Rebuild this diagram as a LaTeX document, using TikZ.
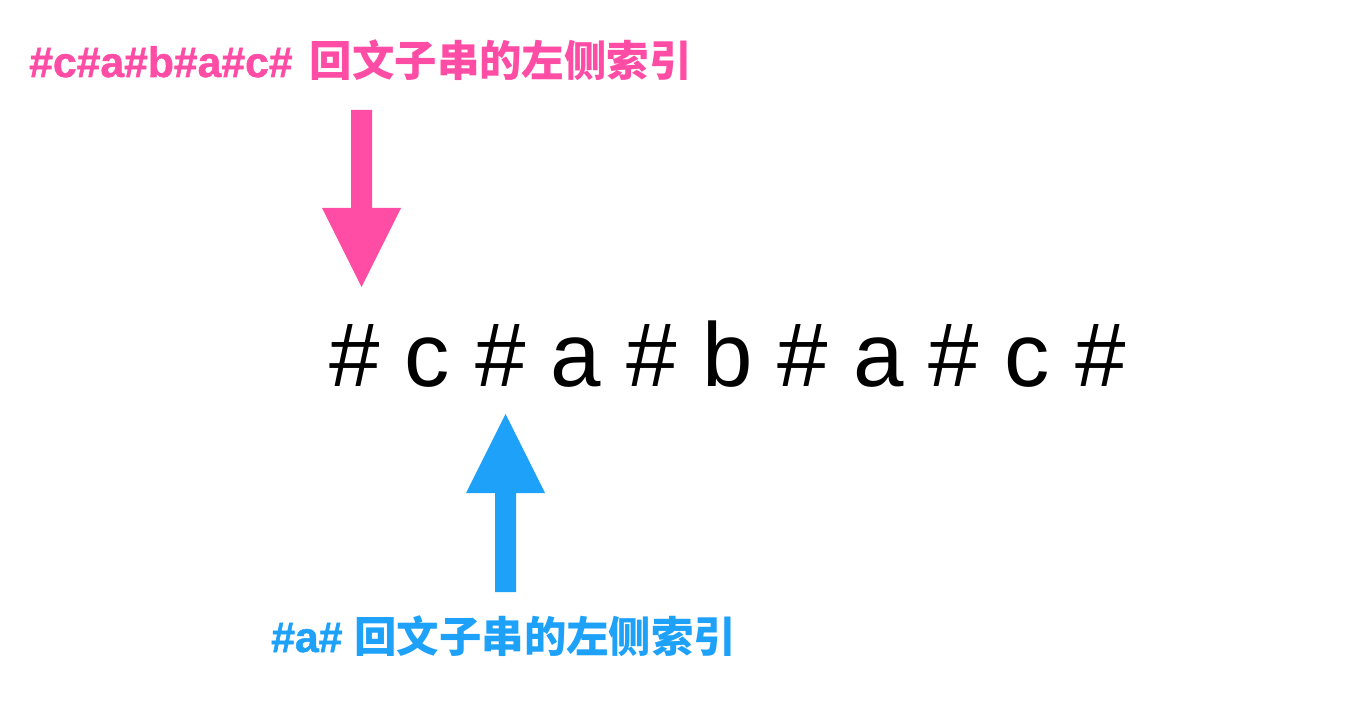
\documentclass[tikz,border=0pt]{standalone}
\usepackage{fontspec}
\newfontfamily\lat{Liberation Sans}[BoldFont={Liberation Sans Bold},BoldFeatures={FakeBold=1.2}]
\newfontfamily\cjk{Noto Sans CJK SC}
\definecolor{pinkc}{HTML}{FF4CA5}
\definecolor{bluec}{HTML}{1EA1F9}
\tikzset{
  lbl/.style={inner sep=0pt, anchor=base west, font=\lat\bfseries\fontsize{32pt}{36pt}\selectfont},
  mainstr/.style={inner sep=0pt, anchor=base west, font=\lat\fontsize{68pt}{76pt}\selectfont}
}
\newcommand{\cjklabel}[1]{{\cjk\bfseries\fontsize{31.8pt}{38pt}\selectfont #1}}
\begin{document}
\begin{tikzpicture}[x=0.75pt,y=-0.75pt]
\useasboundingbox (0,0) rectangle (1360,702);
% labels
\node[lbl, text=pinkc] (toplabel) at (29,77) {\#c\#a\#b\#a\#c\#\hspace{13pt}\cjklabel{回文子串的左侧索引}};
\node[lbl, text=bluec] (botlabel) at (271,652) {\#a\#\hspace{9pt}\cjklabel{回文子串的左侧索引}};
% main string
\node[mainstr] (str) at (329,386) {\# c \# a \# b \# a \# c \#};
% pink arrow
\coordinate (ptip) at (361.5,287);
\fill[pinkc] (351,110) -- (372,110) -- (372,208) -- (401,208) -- (ptip) -- (322,208) -- (351,208) -- cycle;
% blue arrow
\coordinate (btip) at (505.5,414);
\fill[bluec] (btip) -- (545,493) -- (516,493) -- (516,592) -- (495,592) -- (495,493) -- (466,493) -- cycle;
\end{tikzpicture}
\end{document}
